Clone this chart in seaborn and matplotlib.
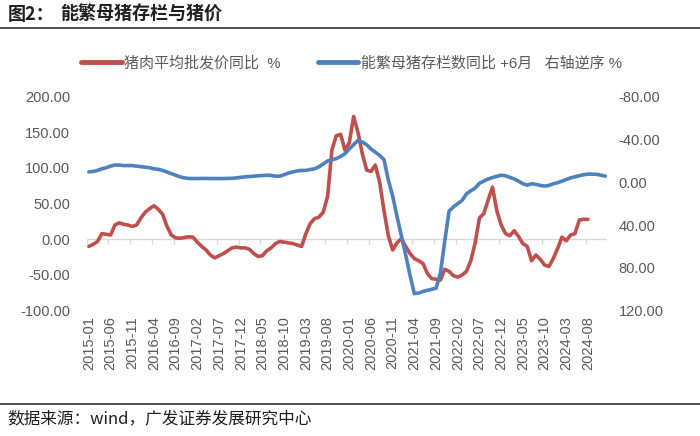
import numpy as np
import pandas as pd
import matplotlib
matplotlib.use("Agg")
import matplotlib.pyplot as plt
import seaborn as sns
from matplotlib.lines import Line2D

# ---------------- data ----------------
months = pd.date_range("2015-01-01", "2024-12-01", freq="MS").strftime("%Y-%m").tolist()

price_yoy = [
    -10, -7, -3, 8, 7, 6, 20, 23, 21, 20, 18, 20,
    30, 38, 43, 47, 42, 35, 18, 6, 2, 1.5, 2.5, 3.5,
    3, -4, -10, -15, -22, -26, -23, -20, -16, -12, -11, -12,
    -12, -14, -20, -24, -23, -16, -12, -6, -3, -4, -5, -6,
    -8, -10, 8, 22, 29, 31, 38, 60, 125, 145, 147, 125,
    135, 172, 150, 120, 97, 95, 104, 80, 40, 5, -15, -5,
    1, -10, -20, -27, -30, -34, -48, -55, -56, -57, -42, -45,
    -51, -53, -50, -45, -30, -5, 30, 36, 55, 73, 40, 20,
    8, 5, 12, 4, -6, -10, -30, -22, -28, -36, -38, -27,
    -13, 3, -2, 6, 8, 27, 28, 28,
]

sow_yoy_lead6 = [
    -9.6, -10, -11, -12.5, -13.5, -15, -16, -16, -15.5, -15.5, -15.5, -15,
    -14.5, -14, -13.5, -12.5, -12, -11, -9.5, -8, -6.5, -5, -4, -3.5,
    -3.4, -3.4, -3.5, -3.5, -3.4, -3.4, -3.4, -3.4, -3.5, -3.6, -4, -4.5,
    -5, -5.3, -5.6, -6, -6.2, -6.5, -6.3, -5.6, -5.6, -7, -8.5, -9.6,
    -10.5, -11, -11, -11.8, -12.5, -14.3, -17, -19.8, -21, -22, -24, -26.6,
    -31, -35, -39, -37.5, -35, -31, -28, -25, -21, -2, 13, 32,
    50, 68, 87, 104, 103.5, 102, 101, 100, 99, 85, 55, 27,
    23, 20, 17, 11, 8, 5.5, 1, -1, -3, -4.3, -5.5, -6.5,
    -6, -4.5, -3, -1, 1.5, 2.8, 1.5, 2, 3, 3.7, 3, 1.5,
    0.5, -1, -2.5, -4, -5, -6, -7, -7.5, -7.5, -7.3, -6.5, -5.6,
]

left_ticks = [-100, -50, 0, 50, 100, 150, 200]
right_ticks = [-80, -40, 0, 40, 80, 120]
label_step = 5

title_prefix = "图2："
title_main = "能繁母猪存栏与猪价"
red_label = "猪肉平均批发价同比  %"
blue_label = "能繁母猪存栏数同比 +6月   右轴逆序 %"
source = "数据来源：wind，广发证券发展研究中心"

RED = "#C0504D"
BLUE = "#4F81BD"
GREY = "#595959"

# ---------------- style ----------------
sns.set_style("white")
plt.rcParams["font.family"] = ["Liberation Sans", "Noto Sans CJK SC", "DejaVu Sans"]
CJK = ["Noto Sans CJK SC", "DejaVu Sans"]

W, H = 700, 436
fig = plt.figure(figsize=(W / 100, H / 100), dpi=100)
x0, x1, y_top, y_bot = 86.7, 607.5, 96.5, 310.7
ax = fig.add_axes([x0 / W, 1 - y_bot / H, (x1 - x0) / W, (y_bot - y_top) / H])

df_red = pd.DataFrame({"idx": np.arange(len(price_yoy)), "val": price_yoy})
df_blue = pd.DataFrame({"idx": np.arange(len(sow_yoy_lead6)), "val": sow_yoy_lead6})

ax.axhline(0, color="#D9D9D9", lw=1, zorder=0)
ax.vlines(np.arange(-0.5, len(months), label_step), -6, 0, color="#D9D9D9", lw=1, zorder=0)

sns.lineplot(data=df_red, x="idx", y="val", ax=ax, color=RED, lw=2.6, legend=False)
ax2 = ax.twinx()
sns.lineplot(data=df_blue, x="idx", y="val", ax=ax2, color=BLUE, lw=2.6, legend=False)

ax.set_xlim(-0.5, len(months) - 0.5)
ax.set_ylim(-100, 200)
ax2.set_ylim(120, -80)

xt = np.arange(0, len(months), label_step)
ax.set_xticks(xt)
ax.set_xticklabels([months[i] for i in xt], rotation=90, fontsize=10.5, color=GREY)
ax.set_yticks(left_ticks)
ax.set_yticklabels([f"{v:.2f}" for v in left_ticks], fontsize=10.5, color=GREY)
ax2.set_yticks(right_ticks)
ax2.set_yticklabels([f"{v:.2f}" for v in right_ticks], fontsize=10.5, color=GREY)
ax.tick_params(axis="x", length=0, pad=4)
ax.tick_params(axis="y", length=0, pad=12)
ax2.tick_params(axis="y", length=0, pad=8)
for a in (ax, ax2):
    a.set_xlabel("")
    a.set_ylabel("")
    for s in a.spines.values():
        s.set_visible(False)
ax.grid(False)
ax2.grid(False)

# ---------------- decorations ----------------
fig.text(8 / W, 1 - 14 / H, title_prefix, fontsize=13, fontweight="bold", va="center",
         color="#1F1F1F", family=CJK)
fig.text(60 / W, 1 - 14 / H, title_main, fontsize=13, fontweight="bold", va="center",
         color="#1F1F1F", family=CJK)
fig.add_artist(Line2D([0, 1], [1 - 28 / H] * 2, color="#404040", lw=1.3))
fig.add_artist(Line2D([0, 1], [1 - 404 / H] * 2, color="#404040", lw=1.3))
fig.text(7 / W, 1 - 419 / H, source, fontsize=12, va="center", color="#1F1F1F", family=CJK)

handles = [Line2D([], [], color=RED, lw=3.5), Line2D([], [], color=BLUE, lw=3.5)]
fig.legend(handles, [red_label, blue_label], loc="center left",
           bbox_to_anchor=(81 / W, 1 - 63 / H), ncol=2, frameon=False,
           fontsize=10.8, handlelength=2.7, handletextpad=0.2, columnspacing=2.45,
           borderpad=0, borderaxespad=0, labelcolor=GREY)

fig.savefig("out.png", dpi=100)
